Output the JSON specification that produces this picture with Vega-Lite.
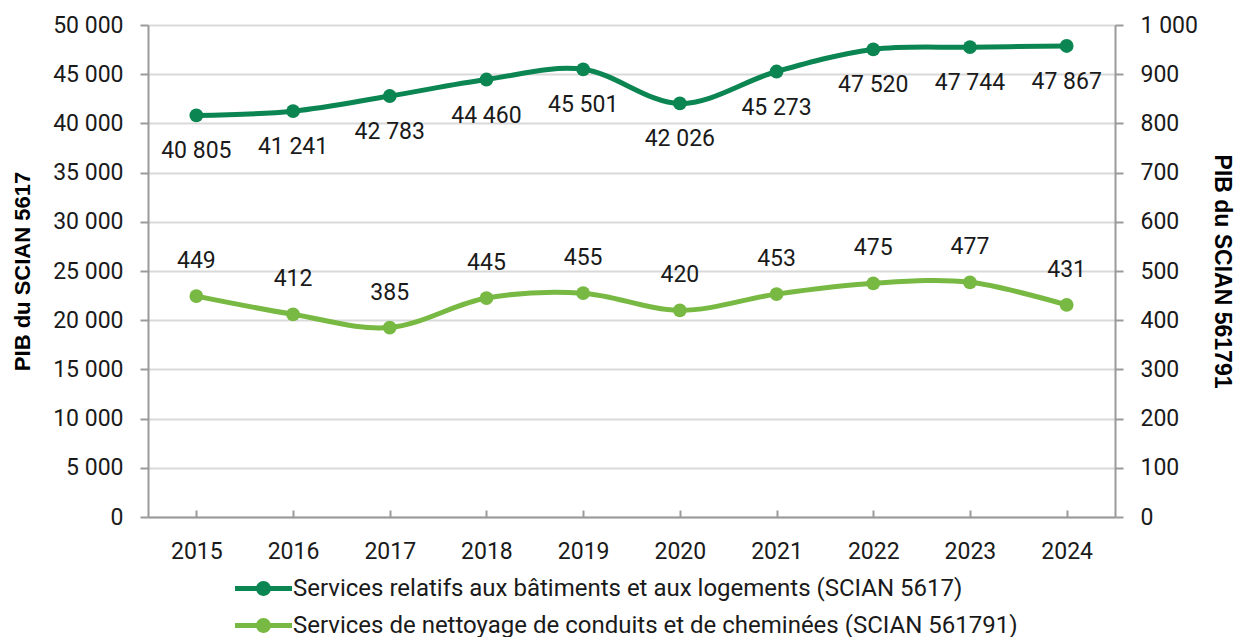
{
  "$schema": "https://vega.github.io/schema/vega-lite/v6.json",
  "width": 967,
  "height": 492,
  "autosize": "none",
  "padding": {"left": 148, "top": 25, "right": 126, "bottom": 120},
  "config": {
    "font": "Roboto",
    "locale": {"number": {"decimal": ",", "thousands": " ", "grouping": [3], "currency": ["", " $"]}},
    "view": {"stroke": null},
    "axis": {"labelFont": "Roboto", "titleFont": "Liberation Sans", "labelFontSize": 23, "labelColor": "#1a1a1a", "domainColor": "#9a9a9a", "tickColor": "#9a9a9a", "domainWidth": 2, "tickWidth": 2, "gridColor": "#d9d9d9", "gridWidth": 2, "labelOverlap": false}
  },
  "data": {"values": [
    {"year": "2015", "series": "Services relatifs aux bâtiments et aux logements (SCIAN 5617)", "value": 40805},
    {"year": "2016", "series": "Services relatifs aux bâtiments et aux logements (SCIAN 5617)", "value": 41241},
    {"year": "2017", "series": "Services relatifs aux bâtiments et aux logements (SCIAN 5617)", "value": 42783},
    {"year": "2018", "series": "Services relatifs aux bâtiments et aux logements (SCIAN 5617)", "value": 44460},
    {"year": "2019", "series": "Services relatifs aux bâtiments et aux logements (SCIAN 5617)", "value": 45501},
    {"year": "2020", "series": "Services relatifs aux bâtiments et aux logements (SCIAN 5617)", "value": 42026},
    {"year": "2021", "series": "Services relatifs aux bâtiments et aux logements (SCIAN 5617)", "value": 45273},
    {"year": "2022", "series": "Services relatifs aux bâtiments et aux logements (SCIAN 5617)", "value": 47520},
    {"year": "2023", "series": "Services relatifs aux bâtiments et aux logements (SCIAN 5617)", "value": 47744},
    {"year": "2024", "series": "Services relatifs aux bâtiments et aux logements (SCIAN 5617)", "value": 47867},
    {"year": "2015", "series": "Services de nettoyage de conduits et de cheminées (SCIAN 561791)", "value": 449},
    {"year": "2016", "series": "Services de nettoyage de conduits et de cheminées (SCIAN 561791)", "value": 412},
    {"year": "2017", "series": "Services de nettoyage de conduits et de cheminées (SCIAN 561791)", "value": 385},
    {"year": "2018", "series": "Services de nettoyage de conduits et de cheminées (SCIAN 561791)", "value": 445},
    {"year": "2019", "series": "Services de nettoyage de conduits et de cheminées (SCIAN 561791)", "value": 455},
    {"year": "2020", "series": "Services de nettoyage de conduits et de cheminées (SCIAN 561791)", "value": 420},
    {"year": "2021", "series": "Services de nettoyage de conduits et de cheminées (SCIAN 561791)", "value": 453},
    {"year": "2022", "series": "Services de nettoyage de conduits et de cheminées (SCIAN 561791)", "value": 475},
    {"year": "2023", "series": "Services de nettoyage de conduits et de cheminées (SCIAN 561791)", "value": 477},
    {"year": "2024", "series": "Services de nettoyage de conduits et de cheminées (SCIAN 561791)", "value": 431}
  ]},
  "encoding": {
    "x": {"field": "year", "type": "ordinal", "scale": {"paddingInner": 0, "paddingOuter": 0}, "axis": {"title": null, "labelAngle": 0, "grid": false, "tickSize": -7, "bandPosition": 0, "labelPadding": 30}},
    "color": {"field": "series", "type": "nominal",
      "scale": {"domain": ["Services relatifs aux bâtiments et aux logements (SCIAN 5617)", "Services de nettoyage de conduits et de cheminées (SCIAN 561791)"], "range": ["#0b8551", "#78b943"]},
      "legend": {"title": null, "orient": "none", "legendX": 101, "legendY": 549, "direction": "vertical", "labelFontSize": 24, "labelColor": "#1a1a1a", "labelFont": "Roboto", "labelLimit": 1000, "rowPadding": 10, "labelOffset": 15,
        "symbolType": "M-2,-0.175 L2,-0.175 L2,0.175 L-2,0.175 Z M-0.52,0 A0.52,0.52 0 1,1 0.52,0 A0.52,0.52 0 1,1 -0.52,0 Z",
        "symbolSize": 812, "symbolStrokeWidth": 0,
        "encode": {"symbols": {"update": {"fill": {"scale": "color", "field": "value"}, "opacity": {"value": 1}, "strokeWidth": {"value": 0}}}}}}
  },
  "layer": [
    {
      "transform": [{"filter": "datum.series == 'Services relatifs aux bâtiments et aux logements (SCIAN 5617)'"}],
      "encoding": {"y": {"field": "value", "type": "quantitative", "scale": {"domain": [0, 50000]},
        "axis": {"title": "PIB du SCIAN 5617", "titleFontSize": 22, "titleFontWeight": "bold", "titleColor": "#000", "values": [0,5000,10000,15000,20000,25000,30000,35000,40000,45000,50000], "format": ",d", "tickSize": 8, "labelPadding": 17, "titlePadding": 18}}},
      "layer": [
        {"mark": {"type": "line", "strokeWidth": 5, "interpolate": "cardinal", "tension": 0}},
        {"mark": {"type": "point", "filled": true, "size": 190, "opacity": 1}},
        {"mark": {"type": "text", "dy": 36, "fontSize": 23, "color": "#1a1a1a"}, "encoding": {"text": {"field": "value", "type": "quantitative", "format": ",d"}, "color": {"value": "#1a1a1a"}}}
      ]
    },
    {
      "transform": [{"filter": "datum.series != 'Services relatifs aux bâtiments et aux logements (SCIAN 5617)'"}],
      "encoding": {"y": {"field": "value", "type": "quantitative", "scale": {"domain": [0, 1000]},
        "axis": {"orient": "right", "grid": false, "title": "PIB du SCIAN 561791", "titleFontSize": 23, "titleFontWeight": "bold", "titleColor": "#000", "titleAngle": 90, "values": [0,100,200,300,400,500,600,700,800,900,1000], "format": ",d", "tickSize": 8, "labelPadding": 17, "titlePadding": 12}}},
      "layer": [
        {"mark": {"type": "line", "strokeWidth": 5, "interpolate": "cardinal", "tension": 0}},
        {"mark": {"type": "point", "filled": true, "size": 190, "opacity": 1}},
        {"mark": {"type": "text", "dy": -35, "fontSize": 23, "color": "#1a1a1a"}, "encoding": {"text": {"field": "value", "type": "quantitative", "format": ",d"}, "color": {"value": "#1a1a1a"}}}
      ]
    }
  ],
  "resolve": {"scale": {"y": "independent"}}
}
